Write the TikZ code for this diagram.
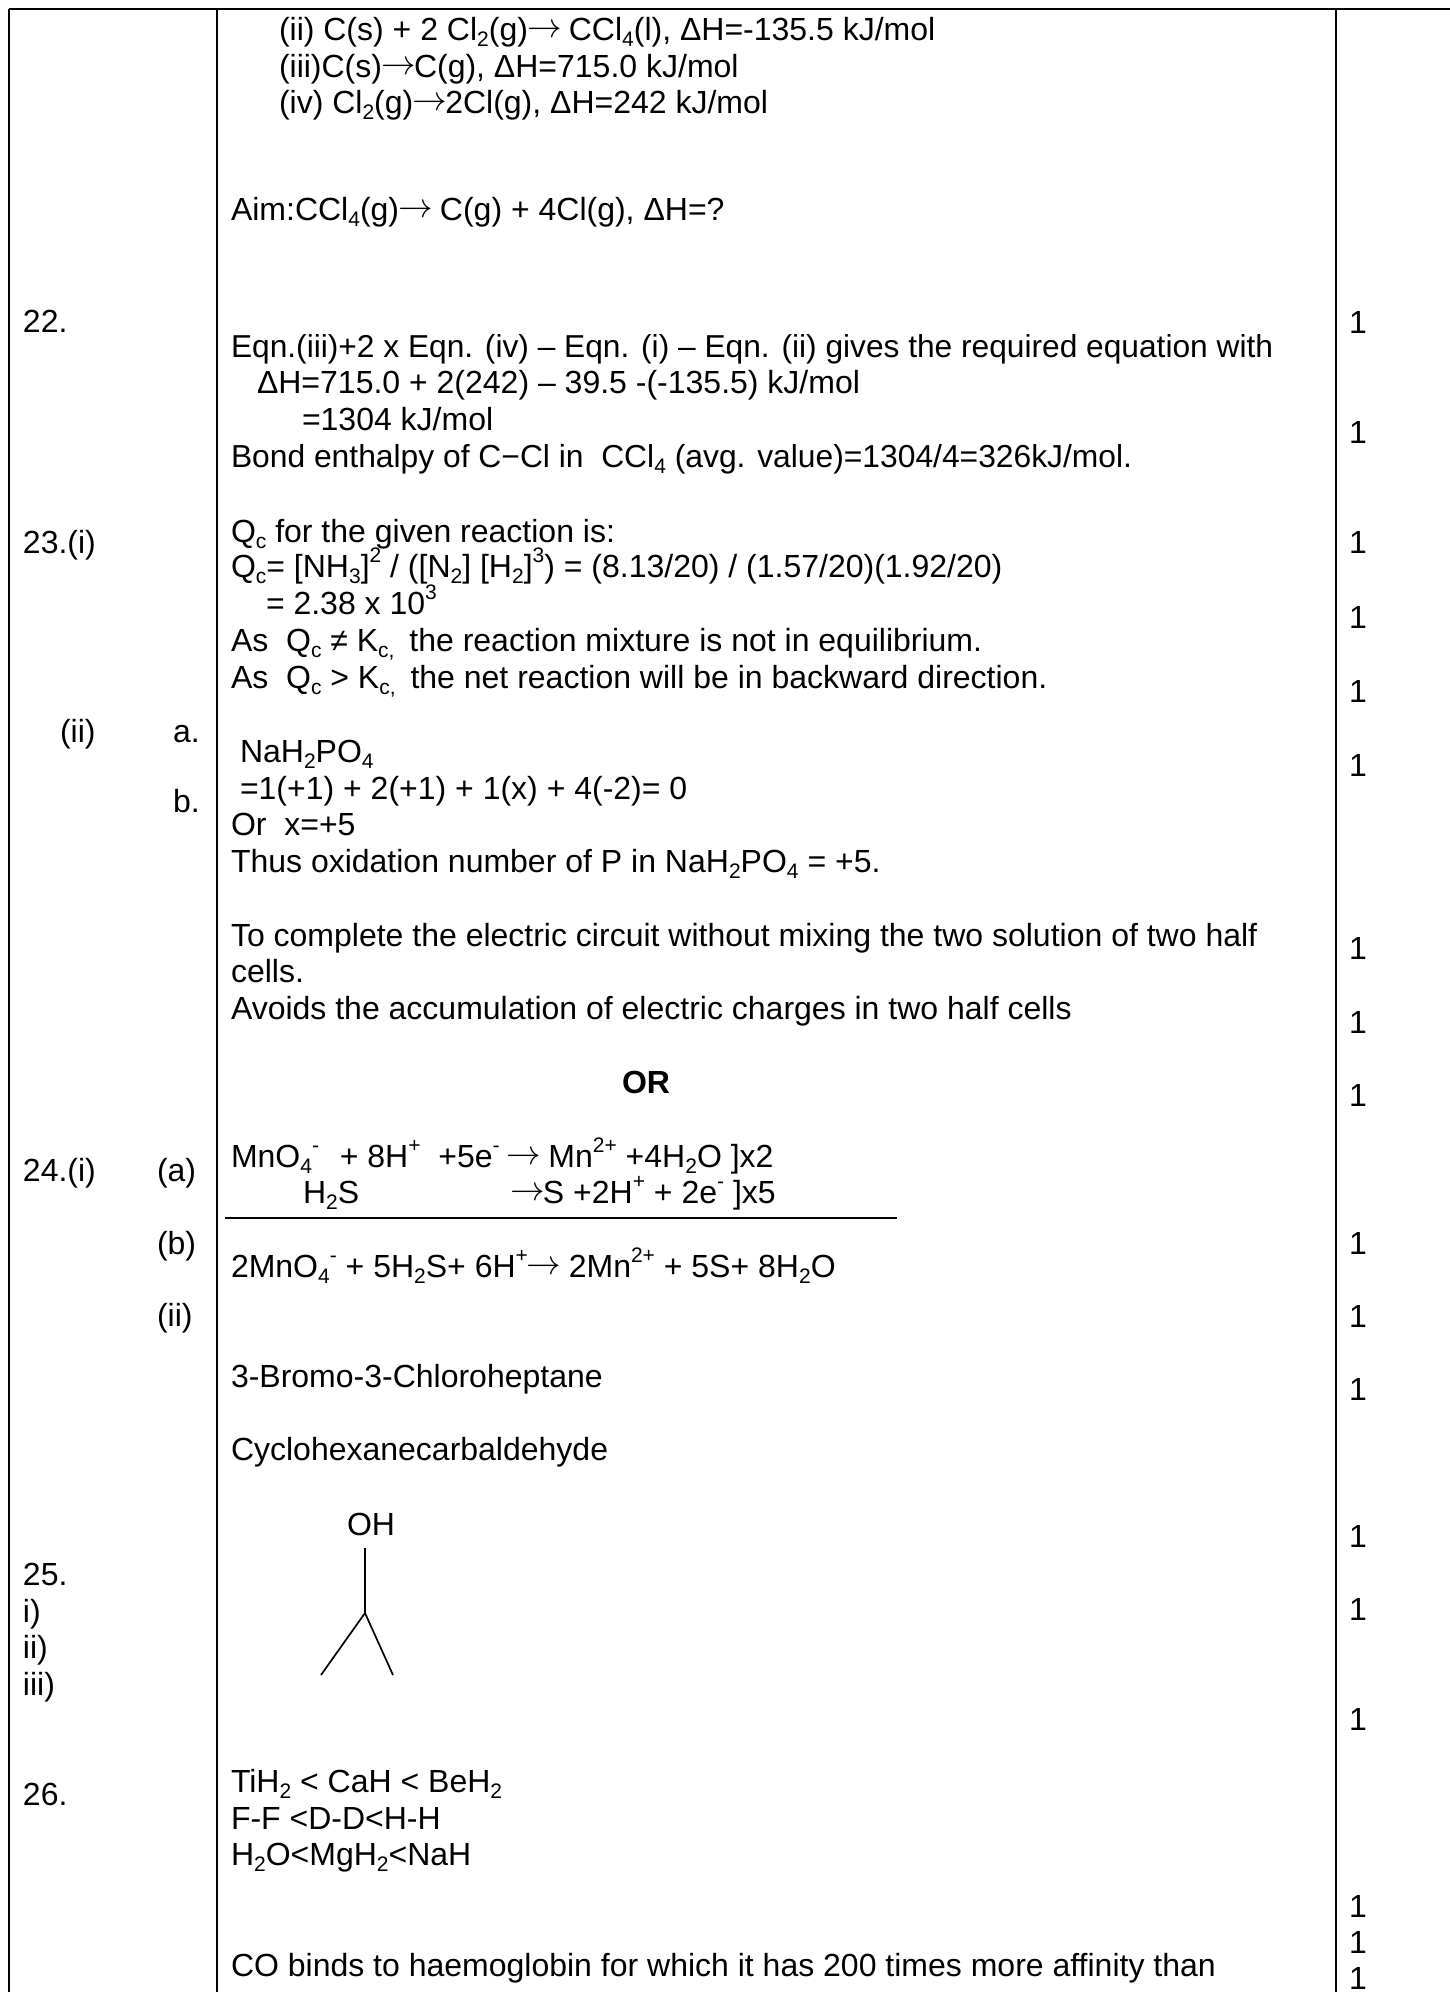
\documentclass[tikz,border=0pt]{standalone}
\usepackage{fontspec}
\setmainfont{Liberation Sans}
\newcommand{\dn}[1]{\raisebox{-0.2em}{\fontsize{10.5}{12}\selectfont #1}}
\newcommand{\up}[1]{\raisebox{0.45em}{\fontsize{10.5}{12}\selectfont #1}}
\newcommand{\arr}{\kern-0.5pt\raisebox{0.07em}{\fontsize{17.28}{18}\selectfont$\rightarrow$}\kern-0.8pt}
\tikzset{
  txt/.style={anchor=base west,inner sep=0pt,outer sep=0pt,font=\fontsize{16}{18}\selectfont},
  frame/.style={line width=1.05pt,black},
  bond/.style={line width=0.85pt,black},
  fracrule/.style={line width=1pt,black}
}
\begin{document}
\begin{tikzpicture}[x=0.5pt,y=-0.5pt]
\useasboundingbox (0,0) rectangle (1450,1992);
\fill[white] (0,0) rectangle (1450,1992);
\coordinate (tl) at (8.7,8.7); \coordinate (tr) at (1450,8.7);
\coordinate (bl) at (8.7,1992);
\coordinate (c2t) at (216.7,8.7); \coordinate (c2b) at (216.7,1992);
\coordinate (c3t) at (1336,8.7); \coordinate (c3b) at (1336,1992);
\draw[frame] (tl) -- (tr);
\draw[frame] (tl) -- (bl);
\draw[frame] (c2t) -- (c2b);
\draw[frame] (c3t) -- (c3b);
% column 1
\node[txt] (q22) at (23,332) {22.};
\node[txt] (q23) at (23,553) {23.(i)};
\node[txt] (q23ii) at (60,742) {(ii)};
\node[txt] (q23a) at (173,742) {a.};
\node[txt] (q23b) at (173,812) {b.};
\node[txt] (q24) at (23,1181) {24.(i)};
\node[txt] (q24a) at (157,1181) {(a)};
\node[txt] (q24b) at (157,1254) {(b)};
\node[txt] (q24ii) at (157,1326) {(ii)};
\node[txt] (q25) at (23,1585) {25.};
\node[txt] (q25i) at (23,1622) {i)};
\node[txt] (q25ii) at (23,1658) {ii)};
\node[txt] (q25iii) at (23,1695) {iii)};
\node[txt] (q26) at (23,1805) {26.};
% column 2
\node[txt] (t1) at (279,40) {(ii) C(s) + 2 Cl\dn{2}(g)\arr{} CCl\dn{4}(l), ΔH=-135.5 kJ/mol};
\node[txt] (t2) at (279,77) {(iii)C(s)\arr{}C(g), ΔH=715.0 kJ/mol};
\node[txt] (t3) at (279,113) {(iv) Cl\dn{2}(g)\arr{}2Cl(g), ΔH=242 kJ/mol};
\node[txt] (t4) at (231,220) {Aim:CCl\dn{4}(g)\arr{} C(g) + 4Cl(g), ΔH=?};
\node[txt,font=\fontsize{15.85}{18}\selectfont] (t5) at (231,357) {Eqn.(iii)+2 x Eqn. (iv) – Eqn. (i) – Eqn. (ii) gives the required equation with};
\node[txt] (t6) at (257,393) {ΔH=715.0 + 2(242) – 39.5 -(-135.5) kJ/mol};
\node[txt] (t7) at (302,430) {=1304 kJ/mol};
\node[txt,font=\fontsize{15.9}{18}\selectfont] (t8) at (231,467) {Bond enthalpy of C−Cl in\ \ CCl\dn{4} (avg. value)=1304/4=326kJ/mol.};
\node[txt] (t9) at (231,542) {Q\dn{c} for the given reaction is:};
\node[txt] (t10) at (231,577) {Q\dn{c}= [NH\dn{3}]\up{2} / ([N\dn{2}] [H\dn{2}]\up{3}) = (8.13/20) / (1.57/20)(1.92/20)};
\node[txt] (t11) at (266,614) {= 2.38 x 10\up{3}};
\node[txt] (t12) at (231,651) {As\ \ Q\dn{c} ≠ K\dn{c,}\kern3pt{} the reaction mixture is not in equilibrium.};
\node[txt] (t13) at (231,688) {As\ \ Q\dn{c} > K\dn{c,}\kern3pt{} the net reaction will be in backward direction.};
\node[txt] (t14) at (240,762) {NaH\dn{2}PO\dn{4}};
\node[txt] (t15) at (240,799) {=1(+1) + 2(+1) + 1(x) + 4(-2)= 0};
\node[txt] (t16) at (231,835) {Or\ \ x=+5};
\node[txt] (t17) at (231,872) {Thus oxidation number of P in NaH\dn{2}PO\dn{4} = +5.};
\node[txt] (t18) at (231,946) {To complete the electric circuit without mixing the two solution of two half};
\node[txt] (t19) at (231,982) {cells.};
\node[txt] (t20) at (231,1019) {Avoids the accumulation of electric charges in two half cells};
\node[txt,anchor=base,font=\fontsize{16}{18}\selectfont\bfseries] (t21) at (646,1093) {OR};
\node[txt] (t22) at (231,1167) {MnO\dn{4}\up{-}\kern1.5pt\ \ + 8H\up{+}\ \ +5e\up{-}\kern4pt\arr{} Mn\up{2+} +4H\dn{2}O ]x2};
\node[txt] (t23) at (303,1203) {H\dn{2}S};
\node[txt] (t24) at (511,1203) {\arr{}S +2H\up{+} + 2e\up{-} ]x5};
\node[txt] (t25) at (231,1277) {2MnO\dn{4}\up{-} + 5H\dn{2}S+ 6H\up{+}\arr{} 2Mn\up{2+} + 5S+ 8H\dn{2}O};
\coordinate (ra) at (225,1218); \coordinate (rb) at (897,1218);
\draw[fracrule] (ra) -- (rb);
\node[txt] (t26) at (231,1387) {3-Bromo-3-Chloroheptane};
\node[txt] (t27) at (231,1460) {Cyclohexanecarbaldehyde};
\node[txt] (oh) at (347,1535) {OH};
\coordinate (b0) at (365,1548); \coordinate (bc) at (365,1613);
\coordinate (bl1) at (321,1675); \coordinate (br1) at (393,1675);
\draw[bond] (b0) -- (bc) -- (bl1);
\draw[bond] (bc) -- (br1);
\node[txt] (t28) at (231,1792) {TiH\dn{2} < CaH < BeH\dn{2}};
\node[txt] (t29) at (231,1829) {F-F <D-D<H-H};
\node[txt] (t30) at (231,1865) {H\dn{2}O<MgH\dn{2}<NaH};
\node[txt] (t31) at (231,1976) {CO binds to haemoglobin for which it has 200 times more affinity than};
% marks
\foreach \i/\y in {a/333,b/443,c/553,d/628,e/702,f/776,g/959,h/1033,k/1106,l/1254,m/1327,n/1400,o/1547,p/1620,q/1730,r/1917,s/1953,u/1989}
  \node[txt] (mark\i) at (1349,\y) {1};
\end{tikzpicture}
\end{document}
